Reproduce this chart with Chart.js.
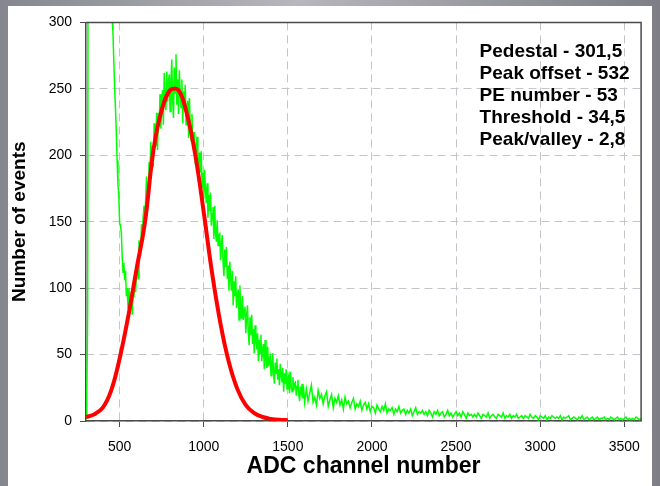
<!DOCTYPE html>
<html>
<head>
<meta charset="UTF-8">
<title>ADC spectrum</title>
<script src="https://cdn.jsdelivr.net/npm/chart.js"></script>
<style>
  html, body { margin: 0; padding: 0; }
  body {
    width: 660px;
    height: 486px;
    overflow: hidden;
    background: linear-gradient(90deg, #86868e 0%, #b6b6bc 45%, #7e7e86 100%);
  }
  .panel {
    position: absolute;
    left: 8px;
    top: 6px;
    width: 644px;
    height: 480px;
    background: #fff;
  }
</style>
</head>

<body>
<div class="panel">
  <canvas id="spectrum" width="644" height="480"></canvas>
</div>

<script>
    // measured spectrum, 5-channel bins from channel 300
    const fineStart = 300;
    const fineStep = 5;
    const fineCounts = [
        2, 20, 85, 700, 2400, 3000, 3100, 2700, 2200, 1800,
        1500, 1250, 1050, 900, 780, 690, 620, 565, 520, 488,
        460, 438, 420, 404, 390, 376, 362, 350, 338, 326,
        314, 303, 293, 272, 252, 236, 218, 196, 178, 170,
        149, 147, 142, 124, 112, 119, 106, 113, 94, 100,
        85, 100, 90, 84, 97, 80, 97, 93, 111, 97,
        111, 121, 107, 136, 125, 125, 148, 138, 154, 162,
        149, 168, 184, 169, 165, 195, 187, 210, 188, 207,
        191, 224, 213, 207, 232, 204, 232, 223, 246, 220,
        237, 249, 223, 262, 240, 234, 263, 240, 255, 261,
        233, 256, 272, 242, 228, 266, 247, 276, 238, 257,
        231, 264, 247, 236, 257, 224, 248, 234, 253, 223,
        235, 241, 213, 243, 220, 211, 231, 209, 217, 217,
        193, 206, 214, 192, 180, 202, 187, 203, 176, 187,
        167, 189, 174, 164, 179, 153, 170, 158, 172, 147,
        156, 161, 137, 162, 142, 135, 151, 132, 140, 141,
        121, 133, 140, 119, 109, 129, 116, 131, 107, 117,
        98, 120, 107, 98, 113, 87, 105, 94, 109, 85,
        94, 99, 76, 102, 83, 77, 94, 76, 84, 86,
        66, 79, 87, 67, 57, 78, 65, 80, 58, 69,
        51, 72, 61, 54, 66, 45, 61, 51, 65, 45,
        53, 58, 39, 61, 46, 40, 56, 41, 47, 49,
        34, 44, 51, 36, 28, 44, 36, 47, 31, 39,
        27, 43, 35, 29, 40, 22, 36, 28, 39, 24,
        31, 34, 21, 37, 26, 22, 33, 23, 28, 29,
        19, 26, 31, 20, 15, 26, 21, 28, 17, 22,
        14
    ];

    // tail of the spectrum, 10-channel bins
    const tailStart = 1610;
    const tailStep = 10;
    const tailCounts = [
        24, 15, 21, 27, 14, 18, 12, 23, 17, 20,
        13, 19, 22, 11, 16, 20, 10, 17, 14, 19,
        12, 16, 9, 18, 13, 15, 10, 14, 17, 9,
        13, 11, 15, 8, 12, 14, 9, 13, 7, 11,
        10, 6, 12, 9, 7, 11, 8, 13, 6, 9,
        8, 10, 5, 9, 7, 11, 6, 8, 9, 5,
        8, 6, 9, 4, 7, 10, 5, 7, 6, 8,
        5, 7, 4, 8, 6, 3, 7, 5, 8, 4,
        6, 7, 3, 5, 8, 4, 6, 3, 5, 7,
        4, 6, 3, 7, 5, 2, 6, 4, 5, 3,
        5, 3, 6, 4, 2, 5, 4, 3, 6, 2,
        4, 5, 3, 2, 5, 4, 3, 6, 2, 4,
        3, 5, 2, 4, 3, 5, 2, 3, 4, 2,
        4, 3, 2, 5, 3, 2, 4, 3, 1, 4,
        3, 2, 4, 1, 3, 2, 4, 3, 2, 3,
        2, 4, 1, 3, 2, 3, 4, 1, 2, 3,
        2, 1, 3, 2, 4, 1, 2, 3, 1, 2,
        3, 1, 2, 3, 1, 2, 2, 3, 1, 2,
        1, 3, 2, 1, 2, 3, 1, 2, 1, 2,
        3, 1, 2, 1, 2, 1, 3, 2, 1, 2
    ];

    // single photoelectron fit
    const fitChannels = [300, 350, 400, 450, 500, 550, 600, 650, 700, 750, 800, 850, 900,
        950, 1000, 1050, 1100, 1150, 1200, 1250, 1300, 1350, 1400, 1450, 1500];
    const fitCounts = [3, 5, 10, 23, 47, 78, 114, 149, 203, 234, 249, 249, 231,
        200, 157, 111, 73, 44, 24, 12, 6, 3, 1.6, 0.9, 0.6];

    const xTicks = [500, 1000, 1500, 2000, 2500, 3000, 3500];
    const yTicks = [0, 50, 100, 150, 200, 250, 300];

    const infoLines = [
        'Pedestal - 301,5',
        'Peak offset - 532',
        'PE number - 53',
        'Threshold - 34,5',
        'Peak/valley - 2,8'
    ];

    const fontFamily = "'Liberation Sans', Arial, sans-serif";
    const axisColor = '#4a4a4a';
    const gridColor = '#c4c4ca';

    const spectrumPoints = fineCounts.map((v, i) => ({ x: fineStart + i * fineStep, y: v }))
        .concat(tailCounts.map((v, i) => ({ x: tailStart + i * tailStep, y: v })));
    const fitPoints = fitChannels.map((c, i) => ({ x: c, y: fitCounts[i] }));

    // closes the plot frame on top and right
    const frameBox = {
        id: 'frameBox',
        afterDatasetsDraw(chart) {
            const { ctx, chartArea: a } = chart;
            ctx.save();
            ctx.strokeStyle = axisColor;
            ctx.lineWidth = 1.5;
            ctx.beginPath();
            ctx.moveTo(a.left, a.top);
            ctx.lineTo(a.right, a.top);
            ctx.lineTo(a.right, a.bottom);
            ctx.stroke();
            ctx.restore();
        }
    };

    // parameter block in the upper right
    const infoBox = {
        id: 'infoBox',
        afterDraw(chart) {
            const { ctx } = chart;
            const x = chart.scales.x.getPixelForValue(2640);
            const y0 = chart.scales.y.getPixelForValue(278);
            ctx.save();
            ctx.font = 'bold 19px ' + fontFamily;
            ctx.fillStyle = '#000';
            ctx.textAlign = 'left';
            ctx.textBaseline = 'middle';
            infoLines.forEach((line, i) => ctx.fillText(line, x, y0 + i * 22));
            ctx.restore();
        }
    };

    const plainNumber = function(value) {
        return String(value);
    };

    const config = {
        type: 'line',
        data: {
            datasets: [{
                label: 'fit',
                data: fitPoints,
                borderColor: '#ff0000',
                borderWidth: 4,
                pointRadius: 0,
                tension: 0.4,
                fill: false
            }, {
                label: 'spectrum',
                data: spectrumPoints,
                borderColor: '#00ff00',
                borderWidth: 1.5,
                pointRadius: 0,
                tension: 0,
                fill: false
            }]
        },
        options: {
            responsive: false,
            animation: false,
            layout: { padding: { left: 0, right: 5, top: 15, bottom: 0 } },
            plugins: {
                legend: { display: false },
                tooltip: { enabled: false }
            },
            scales: {
                x: {
                    type: 'linear',
                    min: 300,
                    max: 3600,
                    afterBuildTicks: function(scale) {
                        scale.ticks = xTicks.map(v => ({ value: v }));
                    },
                    afterFit: function(scale) {
                        scale.height = 65;
                    },
                    ticks: {
                        font: { family: fontFamily, size: 14 },
                        color: '#000',
                        padding: 12,
                        maxRotation: 0,
                        callback: plainNumber
                    },
                    grid: {
                        color: gridColor,
                        tickColor: axisColor,
                        tickLength: 6,
                        lineWidth: 1
                    },
                    border: { color: axisColor, width: 1.5, dash: [8, 5] },
                    title: {
                        display: true,
                        text: 'ADC channel number',
                        font: { family: fontFamily, size: 23, weight: 'bold' },
                        color: '#000',
                        padding: { top: 0, bottom: 6 }
                    }
                },
                y: {
                    min: 0,
                    max: 300,
                    afterBuildTicks: function(scale) {
                        scale.ticks = yTicks.map(v => ({ value: v }));
                    },
                    afterFit: function(scale) {
                        scale.width = 78;
                    },
                    ticks: {
                        font: { family: fontFamily, size: 14 },
                        color: '#000',
                        padding: 8,
                        callback: plainNumber
                    },
                    grid: {
                        color: gridColor,
                        tickColor: axisColor,
                        tickLength: 6,
                        lineWidth: 1
                    },
                    border: { color: axisColor, width: 1.5, dash: [8, 5] },
                    title: {
                        display: true,
                        text: 'Number of events',
                        font: { family: fontFamily, size: 19, weight: 'bold' },
                        color: '#000',
                        padding: { top: 0, bottom: 0 }
                    }
                }
            }
        },
        plugins: [frameBox, infoBox]
    };

    const ctx = document.getElementById('spectrum').getContext('2d');
    new Chart(ctx, config);
</script>
</body>
</html>
